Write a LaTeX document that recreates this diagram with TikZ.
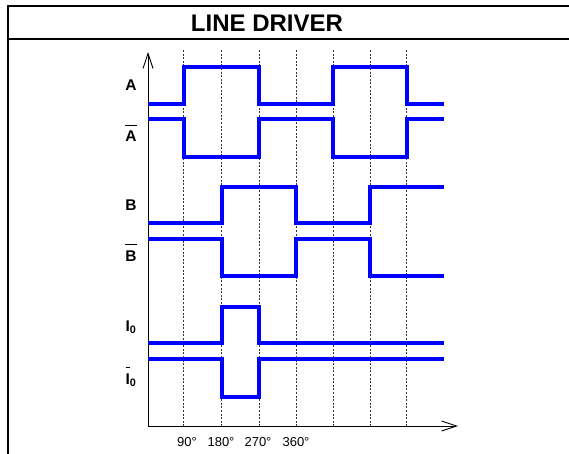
\documentclass[tikz,border=0pt]{standalone}
\usepackage{fontspec}
\setmainfont{Liberation Sans}
\usetikzlibrary{arrows.meta}
\newcommand{\ovl}[1]{\setbox0=\hbox{#1}\rlap{\rule[\dimexpr\ht0+5pt\relax]{\wd0}{1.5pt}}\box0}
\tikzset{
  frame/.style={line width=2pt, black},
  sig/.style={line width=3.8pt, blue!100, line join=miter},
  grid/.style={line width=0.8pt, dash pattern=on 2pt off 1.6pt, black!80},
  axis/.style={line width=1pt, black, -{Straight Barb[length=15pt,width=10pt,line width=0.9pt]}},
  lbl/.style={font=\fontsize{15.5}{17}\selectfont\bfseries, inner sep=0pt},
  deg/.style={font=\fontsize{13}{14}\selectfont, inner sep=0pt},
}
\begin{document}
\begin{tikzpicture}[x=1pt,y=-1pt]
\useasboundingbox (0,0) rectangle (569,454);
% frame
\draw[frame] (8,454) -- (8,6.5) -- (569,6.5);
\draw[frame] (8,39.5) -- (569,39.5);
\node[font=\fontsize{24}{26}\selectfont\bfseries, inner sep=0pt] (title) at (267,23) {LINE DRIVER};
% grid
\foreach \x in {183,221,259,296,333,370,406}
  \draw[grid] (\x,50) -- (\x,426);
% axes
\coordinate (o) at (148,426);
\coordinate (ytip) at (148,52);
\coordinate (xtip) at (458,426);
\draw[axis] (o) -- (ytip);
\draw[axis] (o) -- (xtip);
% signals
\draw[sig] (148,104) -- (184,104) -- (184,67) -- (259,67) -- (259,104) -- (333,104) -- (333,67) -- (407,67) -- (407,104) -- (444,104);
\draw[sig] (148,119) -- (184,119) -- (184,157) -- (259,157) -- (259,119) -- (333,119) -- (333,157) -- (407,157) -- (407,119) -- (444,119);
\draw[sig] (148,223) -- (222,223) -- (222,187) -- (296,187) -- (296,223) -- (370,223) -- (370,187) -- (444,187);
\draw[sig] (148,239) -- (222,239) -- (222,276) -- (296,276) -- (296,239) -- (370,239) -- (370,276) -- (444,276);
\draw[sig] (148,343) -- (222,343) -- (222,307) -- (259,307) -- (259,343) -- (444,343);
\draw[sig] (148,359) -- (222,359) -- (222,397) -- (259,397) -- (259,359) -- (444,359);
% labels
\node[lbl, anchor=base] (la) at (131,91) {A};
\node[lbl, anchor=base] (lab) at (131,142) {\ovl{A}};
\node[lbl, anchor=base] (lb) at (131,210) {B};
\node[lbl, anchor=base] (lbb) at (131,261) {\ovl{B}};
\node[lbl, anchor=base] (li) at (131,331) {I\textsubscript{0}};
\node[lbl, anchor=base] (lib) at (131,384) {\ovl{I}\textsubscript{0}};
% degrees
\node[deg] (d90) at (187,442) {90°};
\node[deg] (d180) at (221,442) {180°};
\node[deg] (d270) at (258,442) {270°};
\node[deg] (d360) at (296,442) {360°};
\end{tikzpicture}
\end{document}
